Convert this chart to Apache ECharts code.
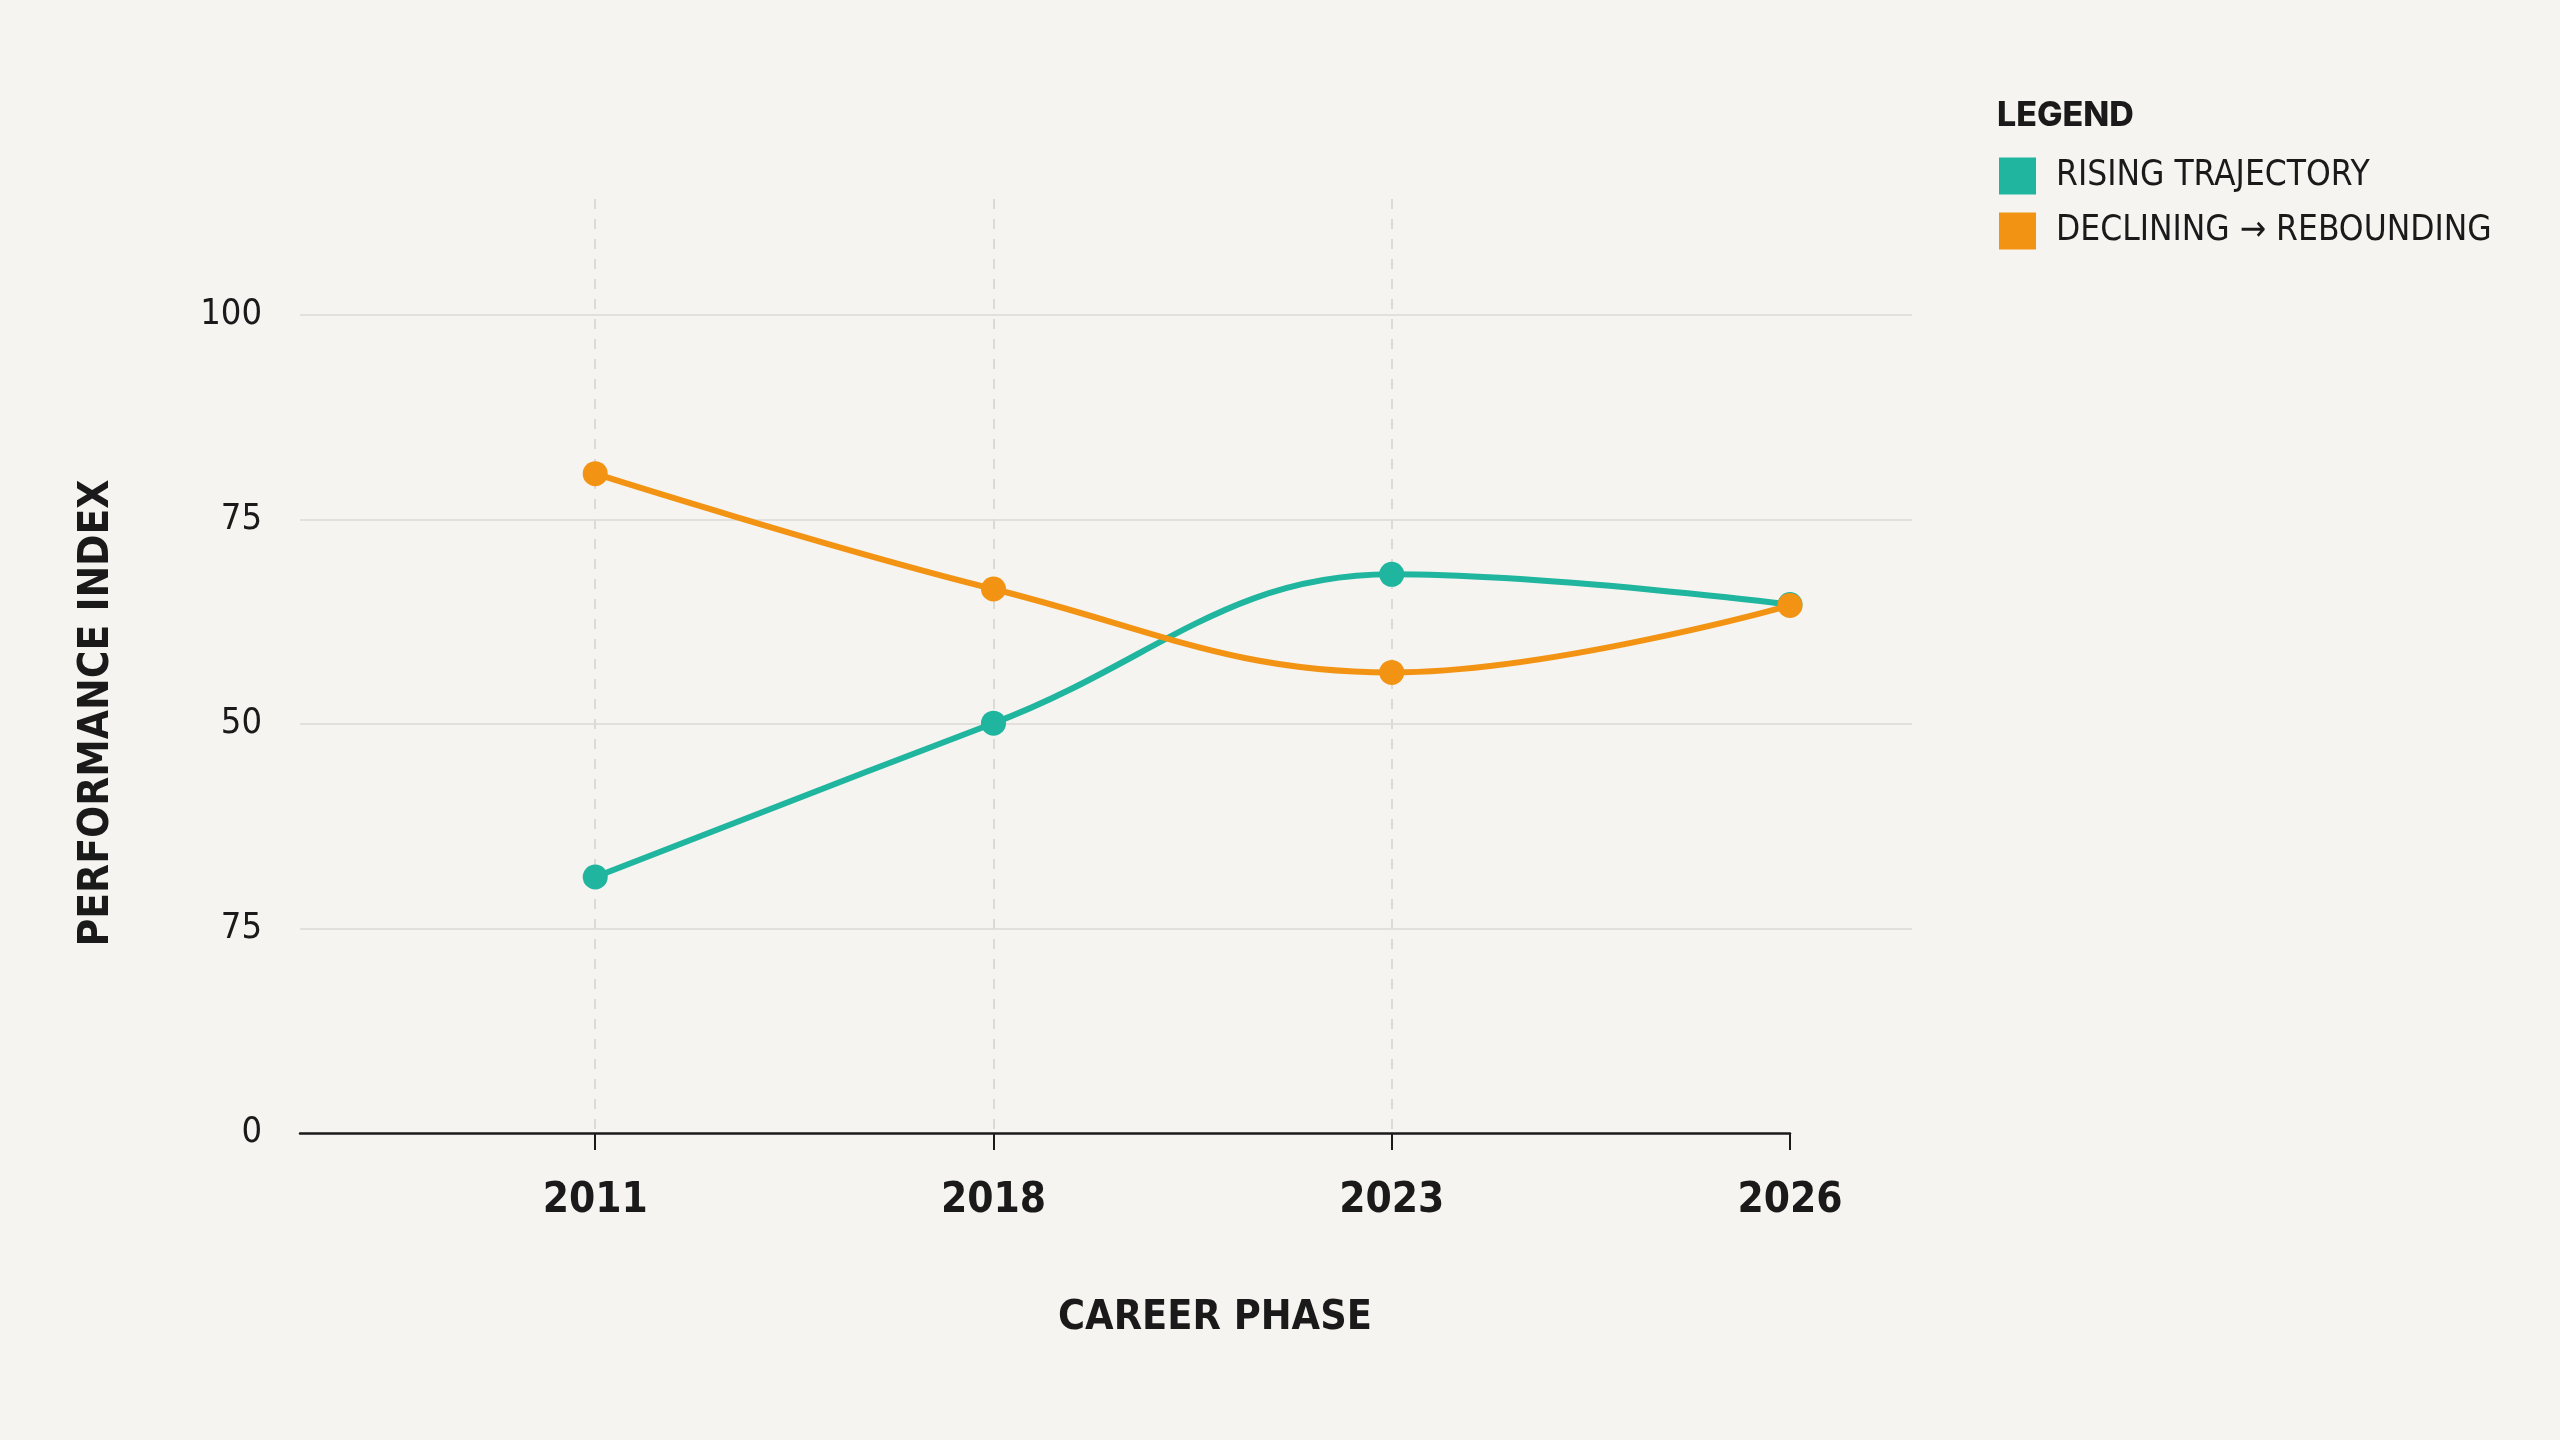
<!DOCTYPE html>
<html>
<head>
<meta charset="utf-8">
<script src="https://cdn.jsdelivr.net/npm/echarts@6/dist/echarts.min.js"></script>
<style>
  html, body { margin: 0; padding: 0; background: #f5f4f0; }
  #chart { width: 2560px; height: 1440px; }
</style>
</head>
<body>
<div id="chart"></div>
<script>
var chart = echarts.init(document.getElementById('chart'));

// data
var phases = ['2011', '2018', '2023', '2026'];
var rising = [31.3, 50.1, 68.3, 64.6];
var declining = [80.6, 66.5, 56.3, 64.5];
var yTickValues = [0, 25, 50, 75, 100];
var yTickLabels = ['0', '75', '50', '75', '100'];

var narrow = "'Liberation Sans Narrow', 'DejaVu Sans Condensed', 'Arial Narrow', sans-serif";
var ink = '#1a1a1a';
var teal = '#1fb59e';
var orange = '#f39314';

var phaseIdx = phases.map(function (p, i) { return i; });

function toPoints(vals) {
  return vals.map(function (v, i) { return [i, v]; });
}

var option = {
  backgroundColor: '#f5f4f0',
  title: {
    text: 'LEGEND',
    left: 1997,
    top: 99,
    padding: 0,
    textStyle: { fontFamily: 'Inter, sans-serif', fontWeight: 800, fontSize: 34, color: ink }
  },
  legend: {
    orient: 'vertical',
    left: 1999,
    top: 156,
    icon: 'rect',
    itemWidth: 37,
    itemHeight: 37,
    itemGap: 15,
    padding: 0,
    data: ['RISING TRAJECTORY', 'DECLINING → REBOUNDING'],
    textStyle: { fontFamily: narrow, fontSize: 35, color: ink, lineHeight: 40, padding: [0, 0, 0, 15] }
  },
  graphic: [{
    type: 'text',
    x: 1215,
    y: 1318,
    style: {
      text: 'CAREER PHASE',
      font: "bold 41px " + narrow,
      fill: ink,
      align: 'center',
      verticalAlign: 'middle',
      textAlign: 'center',
      textVerticalAlign: 'middle'
    }
  }],
  grid: [
    { left: 300, right: 648, top: 315, bottom: 307 },
    { left: 300, right: 770, top: 199, bottom: 307 }
  ],
  xAxis: [
    { gridIndex: 0, type: 'value', min: 0, max: 1, show: false },
    {
      gridIndex: 1,
      type: 'value',
      min: -0.7413,
      max: 3,
      axisLine: { show: true, lineStyle: { color: ink, width: 2.5 } },
      axisTick: { show: true, customValues: phaseIdx, length: 17, lineStyle: { color: ink, width: 2 } },
      axisLabel: {
        customValues: phaseIdx,
        formatter: function (v) { return phases[v]; },
        margin: 47,
        fontFamily: narrow,
        fontWeight: 'bold',
        fontSize: 42,
        color: ink
      },
      splitLine: {
        show: true,
        showMinLine: true,
        showMaxLine: false,
        lineStyle: { color: '#dcdad6', width: 2, type: [10, 10] }
      }
    }
  ],
  yAxis: [
    {
      gridIndex: 0,
      type: 'value',
      min: 0,
      max: 100,
      interval: 25,
      name: 'PERFORMANCE INDEX',
      nameLocation: 'middle',
      nameGap: 182,
      nameTextStyle: { fontFamily: narrow, fontWeight: 'bold', fontSize: 42, color: ink, padding: [0, 0, 0, 22] },
      axisLine: { show: false },
      axisTick: { show: false },
      axisLabel: {
        formatter: function (v) { return yTickLabels[yTickValues.indexOf(v)]; },
        margin: 38,
        fontFamily: narrow,
        fontSize: 36,
        color: ink
      },
      splitLine: { show: true, showMinLine: false, lineStyle: { color: '#e2e0dc', width: 2 } }
    },
    { gridIndex: 1, type: 'value', min: 0, max: 114.18, show: false, splitLine: { show: false } }
  ],
  series: [
    {
      name: 'RISING TRAJECTORY',
      type: 'line',
      xAxisIndex: 1,
      yAxisIndex: 1,
      data: toPoints(rising),
      smooth: 0.4,
      symbol: 'circle',
      symbolSize: 25,
      color: teal,
      lineStyle: { width: 6 },
      z: 3
    },
    {
      name: 'DECLINING → REBOUNDING',
      type: 'line',
      xAxisIndex: 1,
      yAxisIndex: 1,
      data: toPoints(declining),
      smooth: 0.4,
      symbol: 'circle',
      symbolSize: 25,
      color: orange,
      lineStyle: { width: 6 },
      z: 4
    }
  ]
};

chart.setOption(option);
</script>
</body>
</html>
